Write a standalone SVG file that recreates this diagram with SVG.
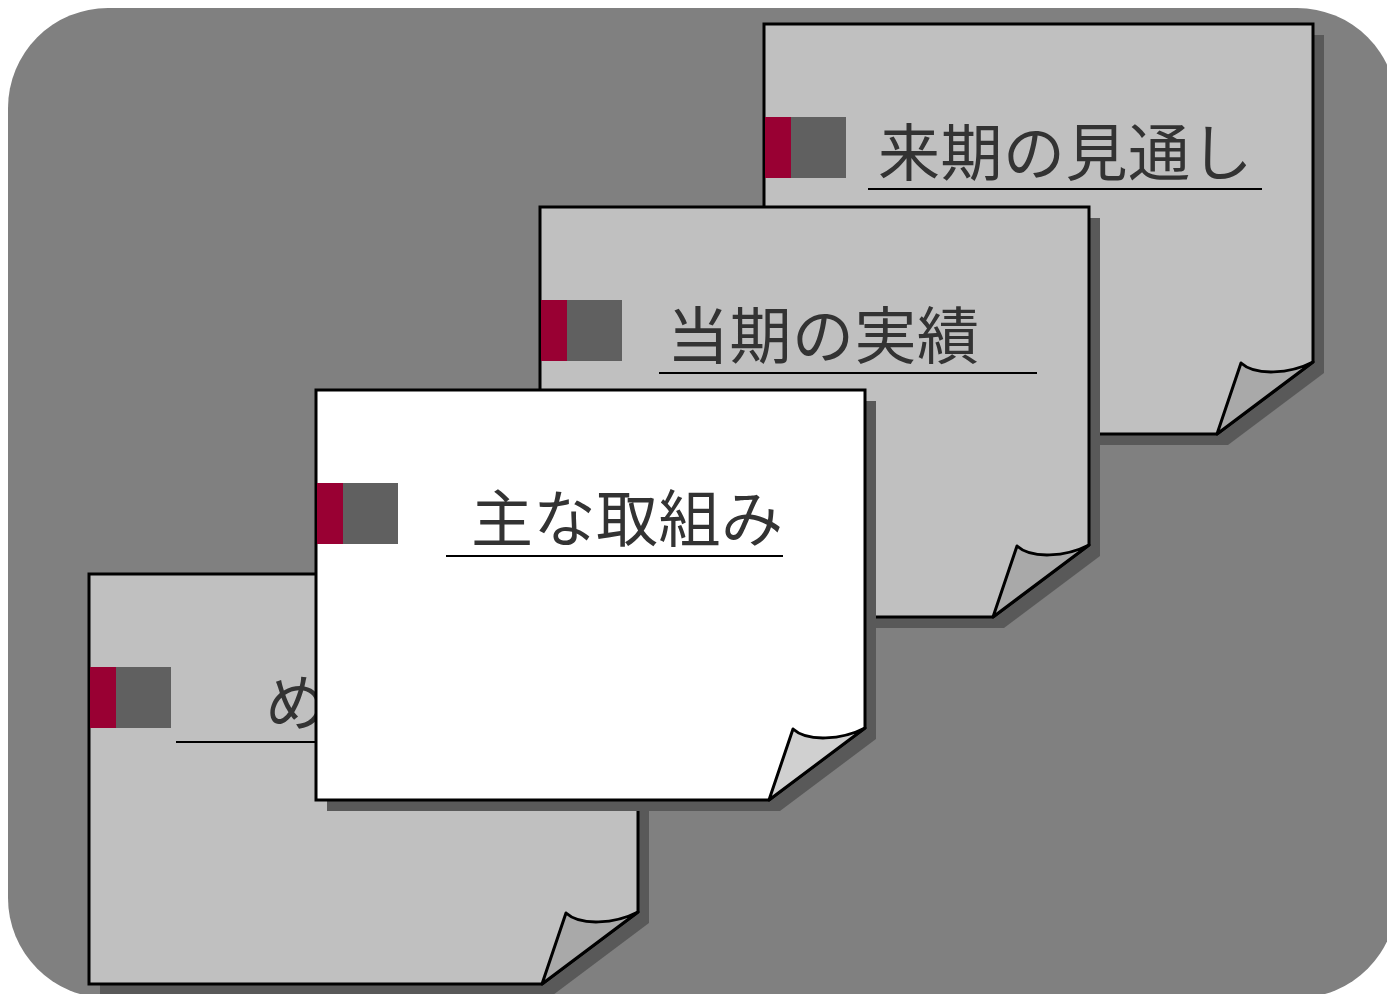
<svg xmlns="http://www.w3.org/2000/svg" width="1387" height="994" viewBox="0 0 1387 994">
<defs>
<style>
.shadow{fill:#595959;stroke:none}
.body{stroke:#000;stroke-width:3;stroke-linejoin:miter}
.grey{fill:#c0c0c0}
.white{fill:#fff}
.flap{stroke:#000;stroke-width:3;stroke-linejoin:round}
.flapg{fill:#a9a9a9}
.flapw{fill:#d0d0d0}
.red{fill:#990033}
.mk{fill:#606060}
.ul{stroke:#000;stroke-width:2}
.t{font-family:"Noto Sans CJK JP","Noto Sans",sans-serif;font-size:62px;letter-spacing:0.5px;fill:#333}
</style>
</defs>
<rect x="8" y="8" width="1389" height="990" rx="100" ry="100" fill="#808080"/>
<g id="note-forecast" transform="translate(764,24)">
<path class="shadow" d="M11,11 H560 V349 L464,421 H11 Z"/>
<path class="body grey" d="M0,0 H549 V338 L453,410 H0 Z"/>
<path class="flap flapg" d="M477,339 C491,352 526,350 549,338 L453,410 Z"/>
<rect class="red" x="1" y="93" width="26" height="61"/>
<rect class="mk" x="27" y="93" width="55" height="61"/>
<text class="t" x="114" y="152">来期の見通し</text>
<line class="ul" x1="104" y1="165" x2="498" y2="165"/>
</g>
<g id="note-results" transform="translate(540,207)">
<path class="shadow" d="M11,11 H560 V349 L464,421 H11 Z"/>
<path class="body grey" d="M0,0 H549 V338 L453,410 H0 Z"/>
<path class="flap flapg" d="M477,339 C491,352 526,350 549,338 L453,410 Z"/>
<rect class="red" x="1" y="93" width="26" height="61"/>
<rect class="mk" x="27" y="93" width="55" height="61"/>
<text class="t" x="127" y="152">当期の実績</text>
<line class="ul" x1="119" y1="166" x2="497" y2="166"/>
</g>
<g id="note-summary" transform="translate(89,574)">
<path class="shadow" d="M11,11 H560 V349 L464,421 H11 Z"/>
<path class="body grey" d="M0,0 H549 V338 L453,410 H0 Z"/>
<path class="flap flapg" d="M477,339 C491,352 526,350 549,338 L453,410 Z"/>
<rect class="red" x="1" y="93" width="26" height="61"/>
<rect class="mk" x="27" y="93" width="55" height="61"/>
<text class="t" x="176" y="152">め</text>
<line class="ul" x1="87" y1="168" x2="540" y2="168"/>
</g>
<g id="note-initiatives" transform="translate(316,390)">
<path class="shadow" d="M11,11 H560 V349 L464,421 H11 Z"/>
<path class="body white" d="M0,0 H549 V338 L453,410 H0 Z"/>
<path class="flap flapw" d="M477,339 C491,352 526,350 549,338 L453,410 Z"/>
<rect class="red" x="1" y="93" width="26" height="61"/>
<rect class="mk" x="27" y="93" width="55" height="61"/>
<text class="t" x="155" y="152">主な取組み</text>
<line class="ul" x1="130" y1="166" x2="467" y2="166"/>
</g>
<g id="connectors"/>
</svg>
